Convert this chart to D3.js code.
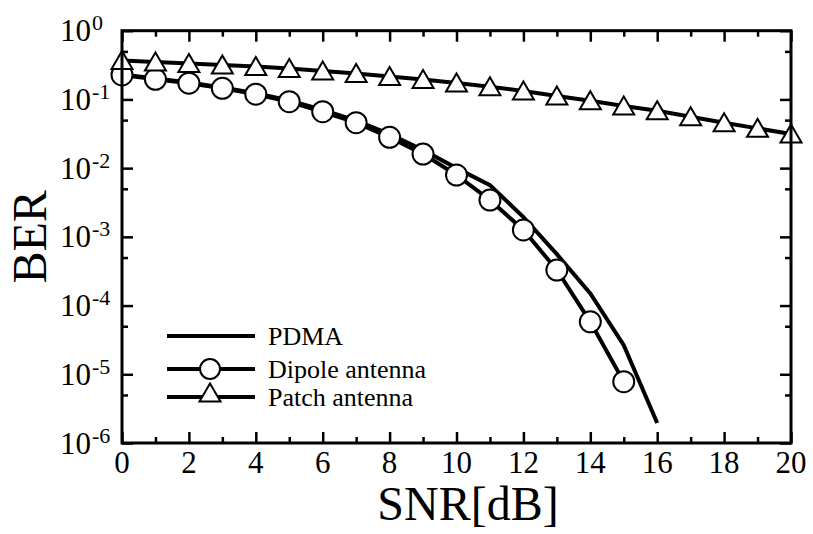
<!DOCTYPE html>
<html>
<head>
<meta charset="utf-8">
<script src="https://cdn.jsdelivr.net/npm/d3@7"></script>
<style>
  body { margin: 0; background: #fff; }
  svg { display: block; }
</style>
</head>
<body>
<div id="chart"></div>
<script>
// data
const snrPdma = [0, 1, 2, 3, 4, 5, 6, 7, 8, 9, 10, 11, 12, 13, 14, 15, 16];
const berPdma = [0.230, 0.201, 0.176, 0.149, 0.123, 0.0964, 0.0701, 0.0493, 0.0313, 0.0183,
                 0.0100, 0.00566, 0.00194, 5.6e-4, 1.5e-4, 2.66e-5, 1.95e-6];

const snrDipole = [0, 1, 2, 3, 4, 5, 6, 7, 8, 9, 10, 11, 12, 13, 14, 15];
const berDipole = [0.227, 0.196, 0.172, 0.145, 0.119, 0.0926, 0.0662, 0.0458, 0.0281, 0.0160,
                   0.00794, 0.00343, 0.00126, 3.29e-4, 5.8e-5, 7.8e-6];

const snrPatch = [0, 1, 2, 3, 4, 5, 6, 7, 8, 9, 10, 11, 12, 13, 14, 15, 16, 17, 18, 19, 20];
const berPatch = [0.368, 0.350, 0.333, 0.317, 0.301, 0.282, 0.259, 0.238, 0.215, 0.195,
                  0.173, 0.153, 0.1325, 0.112, 0.0957, 0.080, 0.0685, 0.056, 0.0458, 0.0379, 0.0313];

const xMajor = [0, 2, 4, 6, 8, 10, 12, 14, 16, 18, 20];
const xMinor = [1, 3, 5, 7, 9, 11, 13, 15, 17, 19];
const yMajorExp = [0, -1, -2, -3, -4, -5, -6];
const yMinor = [0.5, 0.05, 0.005, 5e-4, 5e-5, 5e-6];

const legendNames = ["PDMA", "Dipole antenna", "Patch antenna"];

const width = 813, height = 534;
const plot = { left: 122, right: 791, top: 30.7, bottom: 443 };
const serif = "'Liberation Serif', 'Times New Roman', Times, serif";

const svg = d3.select("#chart").append("svg")
    .attr("width", width)
    .attr("height", height);

const x = d3.scaleLinear().domain([0, 20]).range([plot.left, plot.right]);
const y = d3.scaleLog().domain([1e-6, 1]).range([plot.bottom, plot.top]);

const line = d3.line()
    .x(d => x(d[0]))
    .y(d => y(d[1]));

const zip = (a, b) => a.map((v, i) => [v, b[i]]);

const triPath = "M0,-9.5L10.5,8.5L-10.5,8.5Z";

// curves
const curves = svg.append("g");

[zip(snrPdma, berPdma), zip(snrDipole, berDipole), zip(snrPatch, berPatch)].forEach(pts => {
    curves.append("path")
        .datum(pts)
        .attr("d", line)
        .attr("fill", "none")
        .attr("stroke", "#000")
        .attr("stroke-width", 4);
});

curves.selectAll("circle.dip")
    .data(zip(snrDipole, berDipole))
    .join("circle")
    .attr("class", "dip")
    .attr("cx", d => x(d[0]))
    .attr("cy", d => y(d[1]))
    .attr("r", 10.5)
    .attr("fill", "#fdfdfd")
    .attr("stroke", "#000")
    .attr("stroke-width", 2);

curves.selectAll("path.tri")
    .data(zip(snrPatch, berPatch))
    .join("path")
    .attr("class", "tri")
    .attr("transform", d => "translate(" + x(d[0]) + "," + y(d[1]) + ")")
    .attr("d", triPath)
    .attr("fill", "#fdfdfd")
    .attr("stroke", "#000")
    .attr("stroke-width", 2);

// axes, ticks pointing inwards
function addAxis(axis, tx, ty) {
    const g = svg.append("g")
        .attr("transform", "translate(" + tx + "," + ty + ")")
        .call(axis);
    g.select(".domain").remove();
    g.selectAll(".tick line").attr("stroke", "#000").attr("stroke-width", 2.5);
    g.selectAll(".tick text").remove();
    return g;
}

addAxis(d3.axisBottom(x).tickValues(xMajor).tickSize(-11), 0, plot.bottom);
addAxis(d3.axisBottom(x).tickValues(xMinor).tickSize(-6), 0, plot.bottom);
addAxis(d3.axisTop(x).tickValues(xMajor).tickSize(-11), 0, plot.top);
addAxis(d3.axisTop(x).tickValues(xMinor).tickSize(-6), 0, plot.top);

const yMajor = yMajorExp.map(e => Math.pow(10, e));
addAxis(d3.axisLeft(y).tickValues(yMajor).tickSize(-11), plot.left, 0);
addAxis(d3.axisLeft(y).tickValues(yMinor).tickSize(-6), plot.left, 0);
addAxis(d3.axisRight(y).tickValues(yMajor).tickSize(-11), plot.right, 0);
addAxis(d3.axisRight(y).tickValues(yMinor).tickSize(-6), plot.right, 0);

svg.append("rect")
    .attr("x", plot.left)
    .attr("y", plot.top)
    .attr("width", plot.right - plot.left)
    .attr("height", plot.bottom - plot.top)
    .attr("fill", "none")
    .attr("stroke", "#000")
    .attr("stroke-width", 3);

// tick labels
svg.append("g")
    .attr("font-family", serif)
    .selectAll("text")
    .data(xMajor)
    .join("text")
    .attr("x", d => x(d))
    .attr("y", 473)
    .attr("text-anchor", "middle")
    .attr("font-size", 31)
    .text(d => d);

const yLab = svg.append("g")
    .attr("font-family", serif)
    .selectAll("text")
    .data(yMajorExp)
    .join("text")
    .attr("x", 60)
    .attr("y", d => y(Math.pow(10, d)) + 10.5)
    .attr("font-size", 31);
yLab.append("tspan").text("10");
yLab.append("tspan")
    .attr("dy", -11)
    .attr("dx", 1)
    .attr("font-size", 22)
    .text(d => d === 0 ? "0" : "-" + Math.abs(d));

// axis titles
svg.append("text")
    .attr("font-family", serif)
    .attr("x", 468)
    .attr("y", 520)
    .attr("text-anchor", "middle")
    .attr("font-size", 48)
    .text("SNR[dB]");

svg.append("text")
    .attr("font-family", serif)
    .attr("transform", "translate(46," + ((plot.top + plot.bottom) / 2) + ") rotate(-90)")
    .attr("text-anchor", "middle")
    .attr("font-size", 48)
    .text("BER");

// legend
const legendY = [336, 369, 397];
const leg = svg.append("g").attr("font-family", serif);
legendNames.forEach((name, i) => {
    leg.append("line")
        .attr("x1", 167).attr("x2", 255)
        .attr("y1", legendY[i]).attr("y2", legendY[i])
        .attr("stroke", "#000")
        .attr("stroke-width", 4);
    leg.append("text")
        .attr("x", 268)
        .attr("y", legendY[i] + 9)
        .attr("font-size", 26)
        .text(name);
});
leg.append("circle")
    .attr("cx", 210).attr("cy", legendY[1])
    .attr("r", 10)
    .attr("fill", "#fdfdfd")
    .attr("stroke", "#000")
    .attr("stroke-width", 2);
leg.append("path")
    .attr("transform", "translate(210," + (legendY[2] - 4) + ")")
    .attr("d", triPath)
    .attr("fill", "#fdfdfd")
    .attr("stroke", "#000")
    .attr("stroke-width", 2);
</script>
</body>
</html>
